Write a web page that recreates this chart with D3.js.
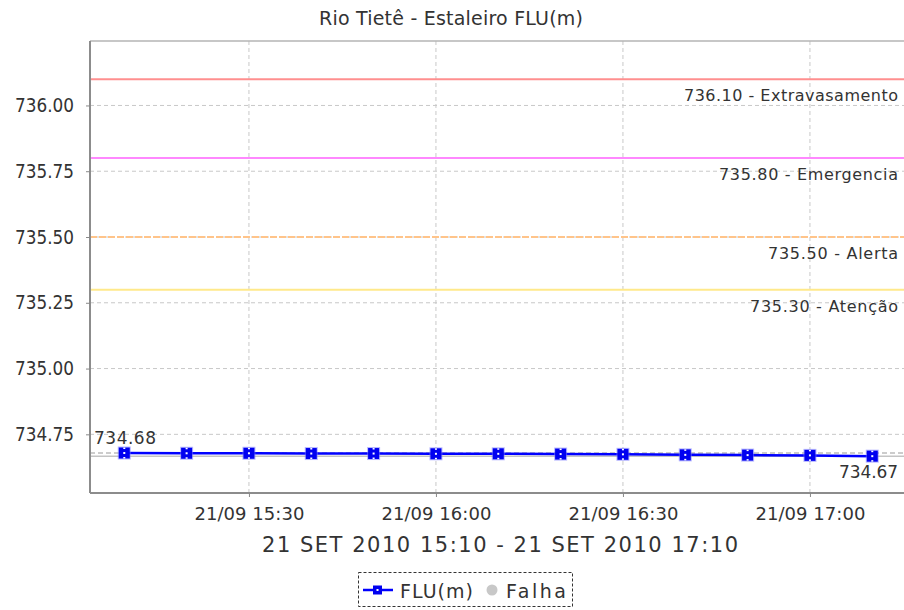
<!DOCTYPE html>
<html><head><meta charset="utf-8">
<script src="https://cdn.jsdelivr.net/npm/d3@7/dist/d3.min.js"></script>
<style>
body{margin:0;background:#fff;}
text{font-family:"DejaVu Sans",sans-serif;fill:#333;}
</style>
</head><body>
<svg id="chart" width="904" height="610"></svg>
<script>
// ---- data ----
const chartTitle = "Rio Tietê - Estaleiro FLU(m)";
const xAxisTitle = "21 SET 2010 15:10 - 21 SET 2010 17:10";
const times = ["15:10","15:20","15:30","15:40","15:50","16:00","16:10","16:20","16:30","16:40","16:50","17:00","17:10"];
const levels = [734.679,734.678,734.678,734.677,734.677,734.676,734.676,734.675,734.674,734.672,734.671,734.670,734.667];
const thresholdValues = [736.10, 735.80, 735.50, 735.30];
const thresholdNames = ["Extravasamento","Emergencia","Alerta","Atenção"];
const yTickValues = [734.75, 735.00, 735.25, 735.50, 735.75, 736.00];
const xTickTimes = ["15:30","16:00","16:30","17:00"];
const seriesNames = ["FLU(m)", "Falha"];

// ---- styles ----
const thresholdColors = ["#ff8f8f","#ff88ff","#ffc48a","#ffe98a"];
const thresholdDash = [null,null,"7,2",null];
const thresholdTextW = [214,179,130,148];

const parse = d3.timeParse("%Y-%m-%d %H:%M:%S");
const day = "2010-09-21 ";
const tParse = s => parse(day + (s.length===5 ? s+":00" : s));

const svg = d3.select("#chart");
const L=90, T=41, B=493, R=904;

const x = d3.scaleTime()
  .domain([tParse("15:04:30"), tParse("17:16:00")])
  .range([L, L + 131.5*6.2333]);
const y = d3.scaleLinear().domain([734.527, 736.245]).range([B, T]);

// clip
svg.append("defs").append("clipPath").attr("id","clip")
  .append("rect").attr("x",L).attr("y",T).attr("width",R-L).attr("height",B-T);

// gridlines
const grid = svg.append("g");
grid.selectAll("line.gy").data(yTickValues).join("line")
  .attr("x1",L).attr("x2",R).attr("y1",d=>y(d)).attr("y2",d=>y(d))
  .attr("stroke","#c8c8c8").attr("stroke-dasharray","4,3").attr("stroke-width",1);
grid.selectAll("line.gx").data(xTickTimes).join("line")
  .attr("x1",d=>x(tParse(d))).attr("x2",d=>x(tParse(d))).attr("y1",T).attr("y2",B)
  .attr("stroke","#c8c8c8").attr("stroke-dasharray","4,3").attr("stroke-width",1);

// top border
svg.append("line").attr("x1",L).attr("x2",R).attr("y1",T).attr("y2",T)
  .attr("stroke","#b4b4b4").attr("stroke-width",1.5);

// thresholds
const thr = svg.append("g").attr("clip-path","url(#clip)");
thr.selectAll("line").data(thresholdValues).join("line")
  .attr("x1",L).attr("x2",R).attr("y1",d=>y(d)).attr("y2",d=>y(d))
  .attr("stroke",(d,i)=>thresholdColors[i]).attr("stroke-width",2)
  .attr("stroke-dasharray",(d,i)=>thresholdDash[i]);
svg.selectAll("text.thr").data(thresholdValues).join("text")
  .attr("class","thr")
  .attr("x",898).attr("y",d=>y(d)+22)
  .attr("text-anchor","end")
  .attr("font-size",16)
  .attr("textLength",(d,i)=>thresholdTextW[i])
  .text((d,i)=>d.toFixed(2)+" - "+thresholdNames[i]);

// min/max reference lines
const vmax = d3.max(levels), vmin = d3.min(levels);
svg.append("line").attr("x1",L).attr("x2",R).attr("y1",y(vmax)).attr("y2",y(vmax))
  .attr("stroke","#bcbcbc").attr("stroke-dasharray","5,3").attr("stroke-width",1.5);
svg.append("line").attr("x1",L).attr("x2",R).attr("y1",y(vmin)).attr("y2",y(vmin))
  .attr("stroke","#c4c4c4").attr("stroke-width",1.5);
svg.append("text").attr("x",L+4).attr("y",y(vmax)-9.5)
  .attr("font-size",17).attr("textLength",62)
  .attr("fill","#444").text(vmax.toFixed(2));
svg.append("text").attr("x",898).attr("y",y(vmin)+22).attr("text-anchor","end")
  .attr("font-size",17).attr("textLength",59)
  .attr("fill","#444").text(vmin.toFixed(2));

// series
const pts = times.map((t,i)=>({t:tParse(t), v:levels[i]}));
const line = d3.line().x(d=>x(d.t)).y(d=>y(d.v));
svg.append("path").datum(pts).attr("d",line)
  .attr("fill","none").attr("stroke","#0000ff").attr("stroke-width",2.5);
const mk = svg.append("g").selectAll("g").data(pts).join("g")
  .attr("transform",d=>`translate(${x(d.t)},${y(d.v)})`);
mk.append("rect").attr("x",-6.5).attr("y",-6.5).attr("width",13).attr("height",13)
  .attr("fill","#7a7aff").attr("opacity",0.55);
mk.append("rect").attr("x",-5.5).attr("y",-5.5).attr("width",11).attr("height",11).attr("fill","#0000f0");
mk.append("rect").attr("x",-1).attr("y",-1).attr("width",2).attr("height",2).attr("fill","#fff");
mk.append("rect").attr("x",-1).attr("y",-5.5).attr("width",2).attr("height",1.5).attr("fill","#fff");
mk.append("rect").attr("x",-1).attr("y",4).attr("width",2).attr("height",1.5).attr("fill","#fff");

// axes
const yAxis = svg.append("g").attr("transform",`translate(${L},0)`)
  .call(d3.axisLeft(y).tickValues(yTickValues).tickFormat(d3.format(".2f")).tickSize(4).tickPadding(12));
yAxis.select(".domain").attr("stroke","#8c8c8c").attr("stroke-width",2).attr("d",`M0,${T}V${B}`);
yAxis.selectAll(".tick line").attr("stroke","#888");
yAxis.selectAll(".tick text").attr("font-size",19).attr("fill","#333")
  .attr("font-family","DejaVu Sans").attr("textLength",59).attr("lengthAdjust","spacingAndGlyphs");

const fmtX = d3.timeFormat("%d/%m %H:%M");
const xAxis = svg.append("g").attr("transform",`translate(0,${B})`)
  .call(d3.axisBottom(x).tickValues(xTickTimes.map(tParse)).tickFormat(fmtX).tickSize(4).tickPadding(10));
xAxis.select(".domain").attr("stroke","#8c8c8c").attr("stroke-width",2).attr("d",`M${L},0H${R}`);
xAxis.selectAll(".tick line").attr("stroke","#888");
xAxis.selectAll(".tick text").attr("font-size",18).attr("fill","#333")
  .attr("font-family","DejaVu Sans").attr("textLength",110);

// titles
svg.append("text").attr("x",451).attr("y",25).attr("text-anchor","middle")
  .attr("font-size",19).attr("fill","#222")
  .attr("textLength",264).text(chartTitle);
svg.append("text").attr("x",500).attr("y",552).attr("text-anchor","middle")
  .attr("font-size",21).attr("fill","#222")
  .attr("textLength",476).text(xAxisTitle);

// legend
const lg = svg.append("g");
lg.append("rect").attr("x",358.5).attr("y",572.5).attr("width",214).attr("height",34)
  .attr("fill","none").attr("stroke","#333").attr("stroke-dasharray","3,2");
lg.append("line").attr("x1",363).attr("x2",393).attr("y1",590).attr("y2",590)
  .attr("stroke","#0000ff").attr("stroke-width",2.5);
lg.append("rect").attr("x",373).attr("y",585.5).attr("width",9).attr("height",9).attr("fill","#0000f0");
lg.append("rect").attr("x",376.5).attr("y",589).attr("width",2).attr("height",2).attr("fill","#fff");
lg.append("text").attr("x",400).attr("y",598).attr("font-size",19).attr("fill","#222")
  .attr("textLength",73).text(seriesNames[0]);
lg.append("circle").attr("cx",492).attr("cy",590).attr("r",5.5).attr("fill","#c8c8c8");
lg.append("text").attr("x",506).attr("y",598).attr("font-size",19).attr("fill","#222")
  .attr("textLength",60).text(seriesNames[1]);
</script>
</body></html>
